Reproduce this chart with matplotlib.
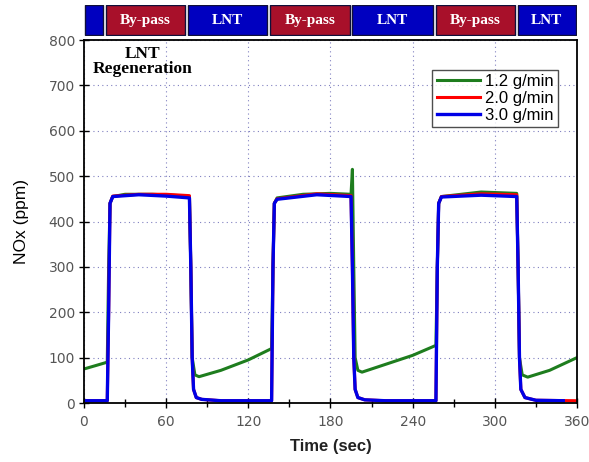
import matplotlib.pyplot as plt
from matplotlib.patches import Rectangle

# NOx traces (time in sec, ppm)
t_green = [0, 8, 17, 18, 19, 21, 30, 50, 70, 77, 78, 79, 81, 84, 100, 120, 137,
           138, 139, 141, 160, 180, 195, 196, 197, 198, 200, 203, 220, 240, 257,
           258, 259, 261, 290, 316, 317, 318, 320, 324, 340, 360]
nox_green = [75, 82, 90, 300, 440, 455, 460, 460, 457, 455, 300, 100, 62, 58, 72, 95, 120,
             300, 440, 452, 460, 462, 460, 515, 300, 100, 72, 68, 85, 105, 127,
             300, 440, 455, 465, 462, 300, 100, 62, 57, 72, 100]

t_red = [0, 17, 18, 19, 21, 40, 60, 77, 78, 79, 80, 82, 86, 100, 137,
         138, 139, 141, 170, 195, 196, 197, 198, 200, 205, 220, 257,
         258, 259, 261, 290, 316, 317, 318, 319, 322, 330, 360]
nox_red = [5, 5, 200, 440, 456, 460, 460, 457, 300, 100, 30, 12, 8, 5, 5,
           300, 440, 450, 461, 457, 300, 100, 30, 12, 7, 5, 5,
           300, 440, 455, 461, 459, 300, 100, 30, 12, 6, 5]

t_blue = [0, 17, 18, 19, 21, 40, 60, 77, 78, 79, 80, 82, 86, 100, 137,
          138, 139, 141, 170, 195, 196, 197, 198, 200, 205, 220, 257,
          258, 259, 261, 290, 316, 317, 318, 319, 322, 330, 350]
nox_blue = [5, 5, 200, 440, 455, 459, 456, 452, 300, 100, 30, 12, 8, 5, 5,
            300, 440, 449, 459, 455, 300, 100, 30, 12, 7, 5, 5,
            300, 440, 454, 458, 455, 300, 100, 30, 12, 6, 5]

# mode bar along the top
mode_start = [0, 15, 75, 135, 195, 256, 316]
mode_end = [15, 75, 135, 195, 256, 316, 360]
mode_label = ['', 'By-pass', 'LNT', 'By-pass', 'LNT', 'By-pass', 'LNT']

fig = plt.figure(figsize=(5.89, 4.62), dpi=100)
ax = fig.add_axes([0.1426, 0.1277, 0.8370, 0.7857])
bar = fig.add_axes([0.1426, 0.922, 0.8370, 0.068])

ax.plot(t_green, nox_green, color='#1e7d1e', lw=2.2, label='1.2 g/min')
ax.plot(t_red, nox_red, color='#ff0000', lw=2.2, label='2.0 g/min')
ax.plot(t_blue, nox_blue, color='#0000e6', lw=2.4, label='3.0 g/min')

ax.set_xlim(0, 360)
ax.set_ylim(0, 800)
ax.set_xticks(range(0, 361, 60))
ax.set_xticks(range(30, 360, 60), minor=True)
ax.set_yticks(range(0, 801, 100))
ax.tick_params(direction='inout', length=7, width=1, labelsize=10,
               labelcolor='#555555', pad=3)
ax.tick_params(which='minor', direction='inout', length=6, width=1)
ax.tick_params(axis='x', pad=5)
for s in ax.spines.values():
    s.set_linewidth(1.3)
ax.grid(True, color='#8080c0', linestyle=(0, (1, 3)), linewidth=0.8)
ax.set_axisbelow(True)

ax.set_xlabel('Time (sec)', fontsize=12, fontweight='bold', family='Liberation Sans',
              color='#222222', labelpad=7)
ax.set_ylabel('NOx (ppm)', fontsize=12.5, family='Liberation Sans', labelpad=14)

ax.text(43, 752, 'LNT\nRegeneration', ha='center', va='center', fontsize=12.5,
        fontweight='bold', family='Liberation Serif', linespacing=0.9)

leg = ax.legend(loc='upper right', bbox_to_anchor=(0.961, 0.918),
                prop={'family': 'Liberation Sans', 'size': 12},
                frameon=True, fancybox=False, edgecolor='#222222',
                handlelength=2.6, handletextpad=0.3, borderpad=0.25,
                labelspacing=0.12, borderaxespad=0)
leg.get_frame().set_linewidth(1.0)

# top mode bar
for x0, x1, lab in zip(mode_start, mode_end, mode_label):
    c = '#a8102a' if lab == 'By-pass' else '#0000c0'
    bar.add_patch(Rectangle((x0 + 1, 0.02), x1 - x0 - 2, 0.96,
                            facecolor=c, edgecolor='#10103a', lw=1.0))
    if lab:
        bar.text((x0 + x1) / 2, 0.5, lab, ha='center', va='center', color='white',
                 fontsize=11, fontweight='bold', family='Liberation Serif')
bar.set_xlim(0, 360)
bar.set_ylim(0, 1)
bar.axis('off')

fig.savefig('out.png', dpi=100)
